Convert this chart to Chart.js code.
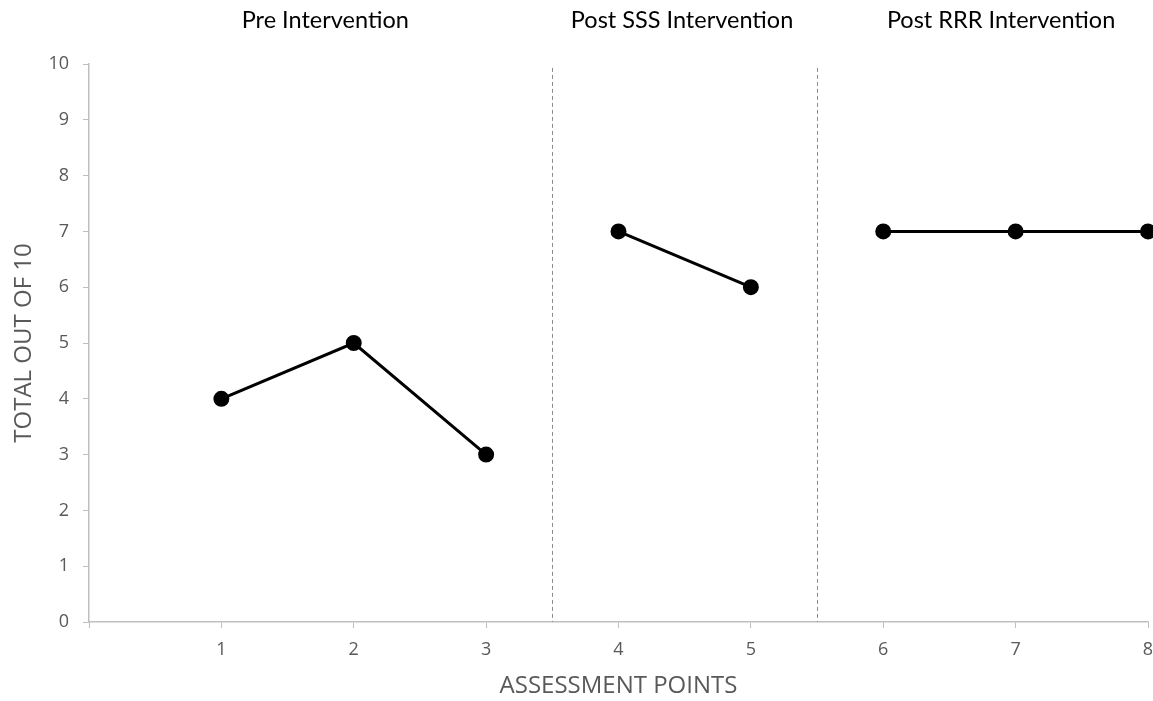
<!DOCTYPE html>
<html>
<head>
<meta charset="utf-8">
<script src="https://cdn.jsdelivr.net/npm/chart.js@4/dist/chart.umd.min.js"></script>
<style>
  html, body { margin: 0; padding: 0; background: #fff; }
  #wrap { width: 1153px; height: 701px; }
</style>
</head>
<body>
<div id="wrap"><canvas id="myChart" width="1153" height="701"></canvas></div>
<script>
// assessment points and scores, split by phase
const prePoints = [1, 2, 3];
const preScores = [4, 5, 3];
const sssPoints = [4, 5];
const sssScores = [7, 6];
const rrrPoints = [6, 7, 8];
const rrrScores = [7, 7, 7];

const phaseLabels = ['Pre Intervention', 'Post SSS Intervention', 'Post RRR Intervention'];
const phaseLabelX = [1.785, 4.48, 6.89];
const phaseBreaks = [3.5, 5.5];

const xTicks = [0, 1, 2, 3, 4, 5, 6, 7, 8];
const yTicks = [0, 1, 2, 3, 4, 5, 6, 7, 8, 9, 10];

const font = "'Open Sans', 'Noto Sans', sans-serif";
const grey = '#595959';
const axisGrey = '#bfbfbf';

function toXY(xs, ys) {
    return xs.map((x, i) => ({ x: x, y: ys[i] }));
}

function lineSet(xs, ys) {
    return {
        data: toXY(xs, ys),
        borderColor: '#000',
        backgroundColor: '#000',
        borderWidth: 3,
        pointRadius: 6.5,
        pointHoverRadius: 6.5,
        showLine: true,
        tension: 0,
        clip: false
    };
}

// dashed phase lines + phase headings
const phasePlugin = {
    id: 'phases',
    afterDatasetsDraw(chart) {
        const ctx = chart.ctx;
        const x = chart.scales.x;
        const y = chart.scales.y;
        ctx.save();
        ctx.strokeStyle = '#8c8c8c';
        ctx.lineWidth = 1;
        ctx.setLineDash([4, 3]);
        phaseBreaks.forEach(b => {
            const px = Math.round(x.getPixelForValue(b)) + 0.5;
            ctx.beginPath();
            ctx.moveTo(px, y.getPixelForValue(9.93));
            ctx.lineTo(px, y.getPixelForValue(0));
            ctx.stroke();
        });
        ctx.setLineDash([]);
        ctx.fillStyle = '#000';
        ctx.font = "23.5px Lato, 'Open Sans', sans-serif";
        ctx.textAlign = 'center';
        ctx.textBaseline = 'middle';
        phaseLabels.forEach((t, i) => {
            ctx.fillText(t, x.getPixelForValue(phaseLabelX[i]), 20);
        });
        ctx.restore();
    }
};

const ctx = document.getElementById('myChart');
const myChart = new Chart(ctx, {
    type: 'scatter',
    data: {
        datasets: [
            lineSet(prePoints, preScores),
            lineSet(sssPoints, sssScores),
            lineSet(rrrPoints, rrrScores)
        ]
    },
    options: {
        responsive: false,
        animation: false,
        layout: { autoPadding: false, padding: { top: 64, right: 5, left: 0, bottom: 0 } },
        plugins: {
            legend: { display: false },
            tooltip: { enabled: false }
        },
        scales: {
            x: {
                type: 'linear',
                min: 0,
                max: 8,
                afterFit: s => { s.height = 79; s.paddingLeft = 0; s.paddingRight = 0; },
                afterBuildTicks: s => { s.ticks = xTicks.map(v => ({ value: v })); },
                ticks: {
                    color: grey,
                    font: { family: font, size: 18 },
                    padding: 11,
                    maxRotation: 0,
                    callback: v => (v === 0 ? '' : v)
                },
                grid: { drawOnChartArea: false, color: axisGrey, tickLength: 6 },
                border: { color: axisGrey, width: 1.5 },
                title: {
                    display: true,
                    text: 'ASSESSMENT POINTS',
                    color: grey,
                    font: { family: font, size: 24 },
                    padding: { top: 4, bottom: 0 }
                }
            },
            y: {
                min: 0,
                max: 10,
                afterFit: s => { s.width = 89; s.paddingTop = 0; s.paddingBottom = 0; },
                afterBuildTicks: s => { s.ticks = yTicks.map(v => ({ value: v })); },
                ticks: {
                    color: grey,
                    font: { family: font, size: 18 },
                    padding: 14
                },
                grid: { drawOnChartArea: false, color: axisGrey, tickLength: 6 },
                border: { color: axisGrey, width: 1.5 },
                title: {
                    display: true,
                    text: 'TOTAL OUT OF 10',
                    color: grey,
                    font: { family: font, size: 24 },
                    padding: { top: 10, bottom: 0 }
                }
            }
        }
    },
    plugins: [phasePlugin]
});
</script>
</body>
</html>
